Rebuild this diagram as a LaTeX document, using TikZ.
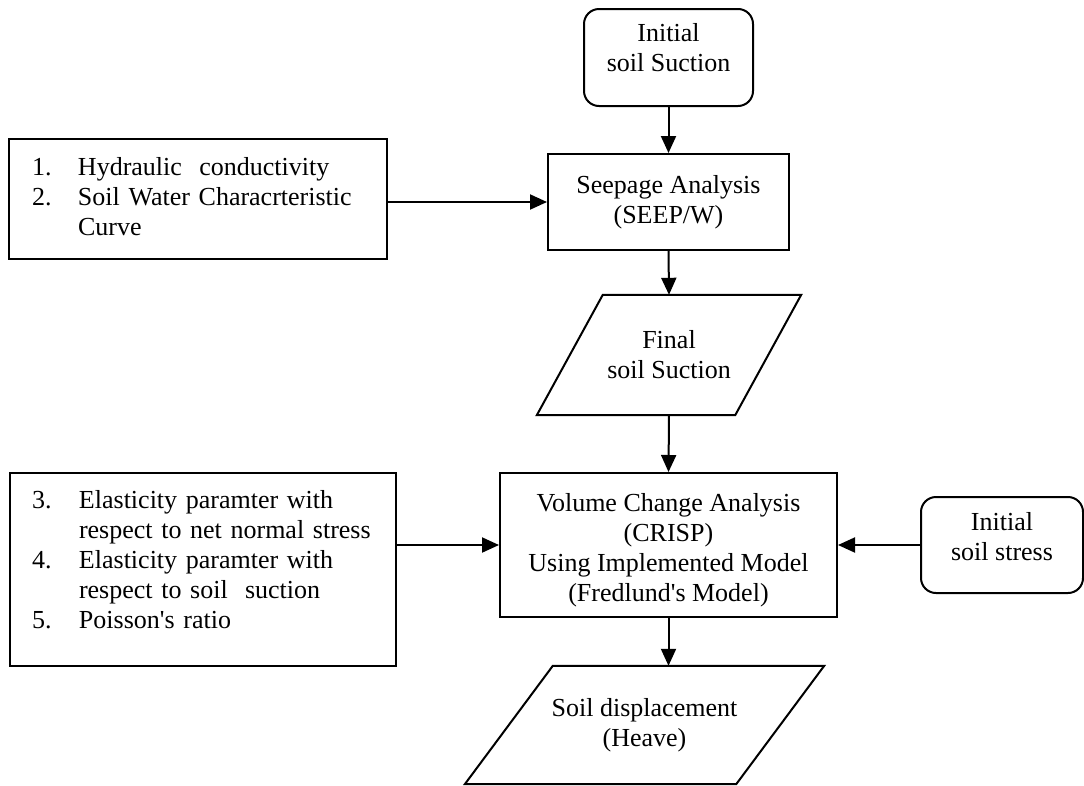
\documentclass[tikz,border=0pt]{standalone}
\usepackage{fontspec}
\setmainfont{Liberation Serif}
\usetikzlibrary{arrows.meta,calc}
\begin{document}
\begin{tikzpicture}[x=1pt,y=-1pt,
  every node/.style={font=\fontsize{26}{30}\selectfont, align=center},
  box/.style={draw, line width=2pt, inner sep=0pt},
  rbox/.style={box, rounded corners=15pt},
  para/.style={inner sep=0pt},
  paraline/.style={line width=2pt, line join=miter},
  arr/.style={line width=2pt, -{Triangle[length=17pt,width=15pt]}}]
\useasboundingbox (0,0) rectangle (1084,785);

% central column
\node[rbox, minimum width=169pt, minimum height=97pt] (is) at (668.5,57.5)
  {\begin{tabular}{@{}c@{}}Initial\\soil Suction\\[14pt]\end{tabular}};
\node[box, minimum width=241pt, minimum height=96pt] (seep) at (668.5,202) {Seepage Analysis\\(SEEP/W)};
\node[para, minimum width=264pt, minimum height=120pt] (fs) at (669,355) {Final\\soil Suction};
\draw[paraline] ($(fs.north west)+(66,0)$) -- (fs.north east) -- ($(fs.south east)-(66,0)$) -- (fs.south west) -- cycle;
\node[box, minimum width=337pt, minimum height=144pt] (vol) at (668.5,545)
  {\begin{tabular}{@{}c@{}}\\[-20pt]Volume Change Analysis\\(CRISP)\\Using Implemented Model\\(Fredlund\textquotesingle s Model)\end{tabular}};
\node[para, minimum width=359pt, minimum height=118pt] (sd) at (644.5,725) {Soil displacement\\(Heave)};
\draw[paraline] ($(sd.north west)+(88,0)$) -- (sd.north east) -- ($(sd.south east)-(88,0)$) -- (sd.south west) -- cycle;

% side inputs
\node[rbox, minimum width=162pt, minimum height=96pt] (ss) at (1002,545)
  {\begin{tabular}{@{}c@{}}Initial\\soil stress\\[12pt]\end{tabular}};

\node[box, minimum width=378pt, minimum height=120pt, text width=332pt, align=left] (b1) at (198,199)
  {\begin{tabular}{@{}p{46pt}@{}l@{}}
   1. & Hydraulic\ \ conductivity\\
   2. & Soil Water Characrteristic\\
      & Curve
   \end{tabular}};

\node[box, minimum width=386pt, minimum height=193pt, text width=342pt, align=left] (b2) at (203,569.5)
  {\begin{tabular}{@{}p{47pt}@{}l@{}}
   3. & Elasticity paramter with\\
      & respect to net normal stress\\
   4. & Elasticity paramter with\\
      & respect to soil\ \ suction\\
   5. & Poisson\textquotesingle s ratio\\[14pt]
   \end{tabular}};

% connectors
\draw[arr] (is.south) -- (seep.north);
\draw[arr] (b1.east |- seep.west) -- (seep.west);
\draw[arr] (seep.south) -- (fs.north);
\draw[arr] (fs.south) -- (vol.north);
\draw[arr] (b2.east |- vol.west) -- (vol.west);
\draw[arr] (ss.west) -- (vol.east);
\draw[arr] (vol.south) -- (vol.south |- sd.north);
\end{tikzpicture}
\end{document}
